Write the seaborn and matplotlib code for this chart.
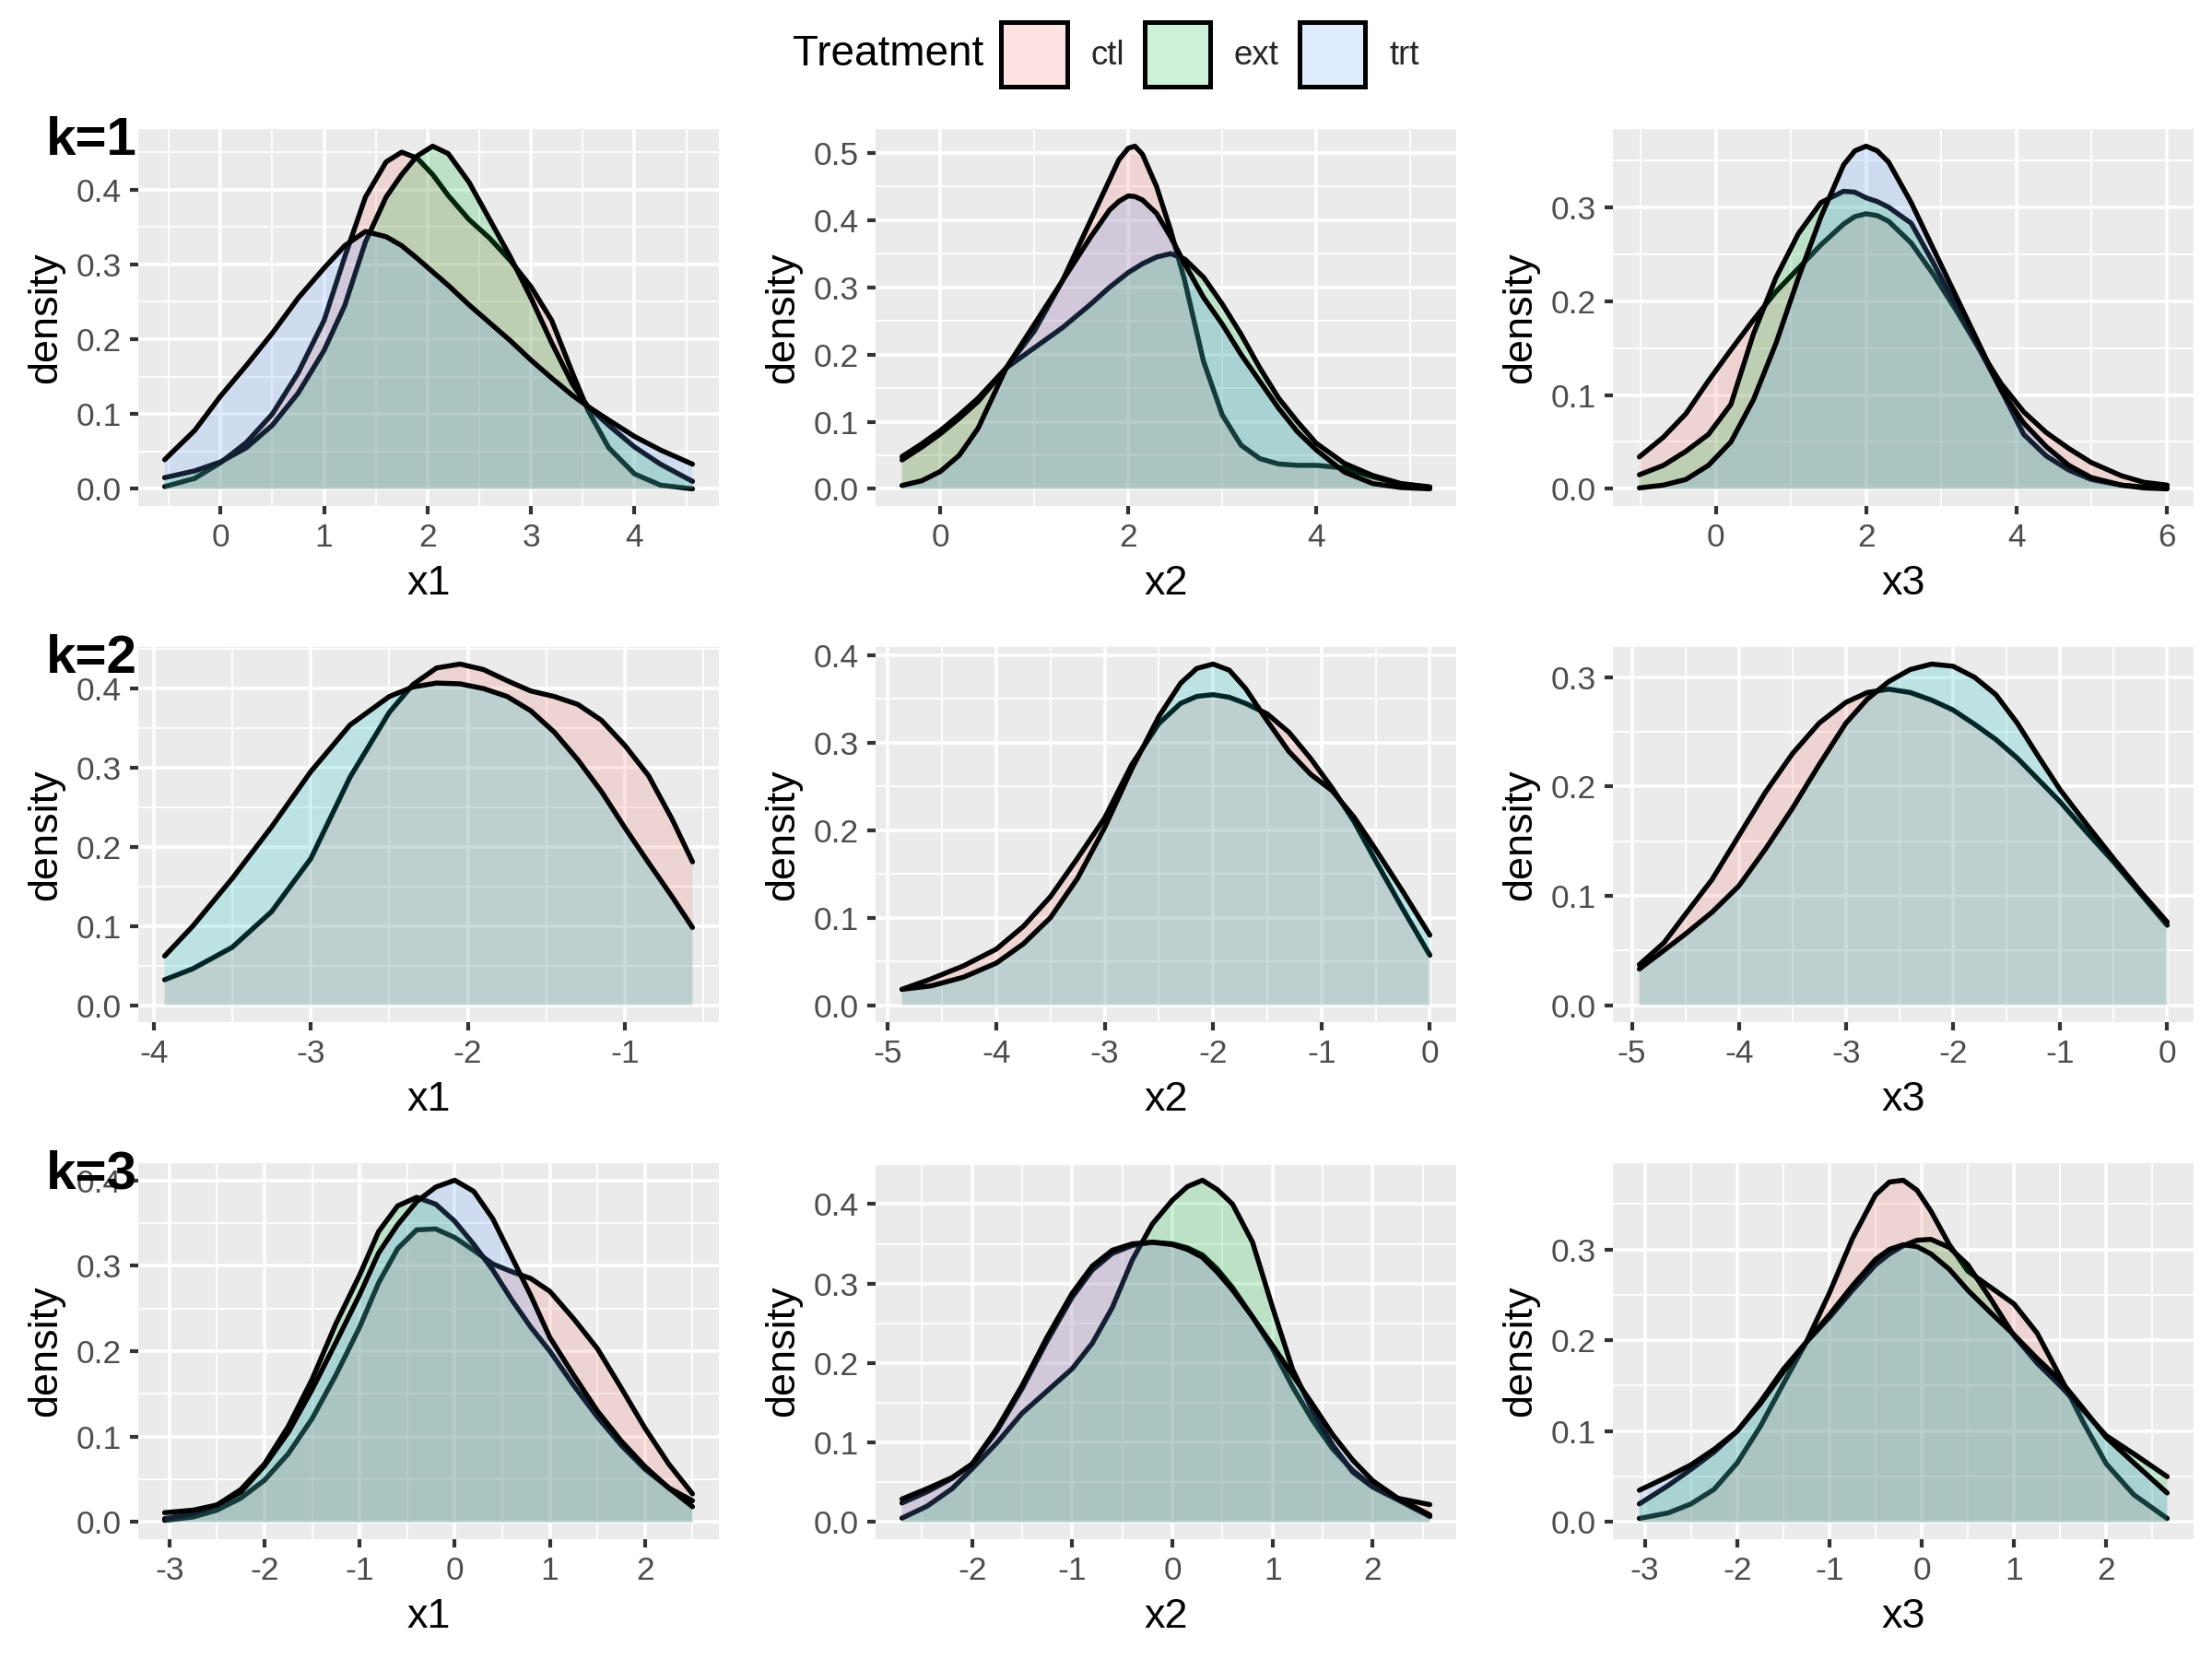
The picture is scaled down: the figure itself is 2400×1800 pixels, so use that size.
import matplotlib
matplotlib.use('Agg')
import matplotlib.pyplot as plt
from matplotlib.ticker import MultipleLocator, FuncFormatter
from matplotlib.patches import Patch
from matplotlib.colors import to_rgba
import seaborn as sns
import pandas as pd

# density curves, one grid per panel
k1_x1_grid = [-0.54, -0.25, 0, 0.25, 0.5, 0.75, 1.0, 1.2, 1.4, 1.6, 1.75, 1.9, 2.05,
              2.2, 2.4, 2.6, 2.8, 3.0, 3.2, 3.4, 3.55, 3.75, 4.0, 4.25, 4.56]
k1_x1_ctl = [0.003, 0.014, 0.035, 0.062, 0.100, 0.155, 0.225, 0.310, 0.390, 0.437, 0.450, 0.442, 0.420,
             0.392, 0.360, 0.335, 0.305, 0.270, 0.225, 0.155, 0.105, 0.055, 0.020, 0.005, 0.000]
k1_x1_ext = [0.015, 0.024, 0.036, 0.055, 0.085, 0.128, 0.185, 0.245, 0.330, 0.390, 0.420, 0.445, 0.458,
             0.448, 0.410, 0.360, 0.310, 0.255, 0.195, 0.140, 0.110, 0.085, 0.056, 0.033, 0.010]
k1_x1_trt = [0.039, 0.078, 0.124, 0.165, 0.208, 0.255, 0.295, 0.325, 0.344, 0.337, 0.325, 0.308, 0.290,
             0.272, 0.246, 0.222, 0.198, 0.172, 0.148, 0.125, 0.110, 0.092, 0.070, 0.052, 0.033]

k1_x2_grid = [-0.41, -0.2, 0, 0.2, 0.4, 0.7, 1.0, 1.3, 1.6, 1.8, 1.9, 2.0, 2.07, 2.15, 2.3,
              2.45, 2.6, 2.8, 3.0, 3.2, 3.4, 3.6, 3.8, 4.0, 4.3, 4.6, 4.9, 5.21]
k1_x2_ctl = [0.048, 0.067, 0.087, 0.110, 0.135, 0.180, 0.235, 0.310, 0.400, 0.460, 0.490, 0.507, 0.510, 0.498, 0.450,
             0.385, 0.310, 0.190, 0.110, 0.065, 0.045, 0.037, 0.035, 0.035, 0.031, 0.018, 0.007, 0.002]
k1_x2_ext = [0.043, 0.062, 0.082, 0.105, 0.130, 0.180, 0.210, 0.240, 0.275, 0.300, 0.311, 0.322, 0.328, 0.335, 0.345,
             0.350, 0.342, 0.315, 0.275, 0.230, 0.180, 0.135, 0.100, 0.068, 0.038, 0.020, 0.008, 0.003]
k1_x2_trt = [0.005, 0.012, 0.026, 0.050, 0.090, 0.180, 0.245, 0.310, 0.375, 0.415, 0.428, 0.436, 0.435, 0.430, 0.410,
             0.375, 0.335, 0.285, 0.245, 0.200, 0.160, 0.120, 0.085, 0.058, 0.025, 0.008, 0.002, 0.000]

k1_x3_grid = [-1.02, -0.7, -0.4, -0.1, 0.2, 0.5, 0.8, 1.1, 1.4, 1.7, 1.85, 2.0, 2.15, 2.3,
              2.6, 2.9, 3.2, 3.5, 3.8, 4.1, 4.4, 4.7, 5.0, 5.4, 5.7, 6.01]
k1_x3_ctl = [0.034, 0.055, 0.080, 0.115, 0.148, 0.180, 0.210, 0.235, 0.260, 0.282, 0.290, 0.293, 0.291, 0.285,
             0.262, 0.228, 0.190, 0.150, 0.112, 0.082, 0.060, 0.043, 0.028, 0.014, 0.007, 0.004]
k1_x3_ext = [0.015, 0.025, 0.040, 0.058, 0.090, 0.165, 0.225, 0.272, 0.305, 0.317, 0.316, 0.310, 0.306, 0.300,
             0.283, 0.240, 0.195, 0.150, 0.105, 0.058, 0.035, 0.020, 0.010, 0.004, 0.002, 0.001]
k1_x3_trt = [0.001, 0.004, 0.010, 0.025, 0.050, 0.095, 0.155, 0.225, 0.290, 0.345, 0.360, 0.365, 0.360, 0.348,
             0.305, 0.255, 0.205, 0.155, 0.105, 0.070, 0.045, 0.025, 0.012, 0.004, 0.001, 0.000]

k2_x1_grid = [-3.93, -3.75, -3.5, -3.25, -3.0, -2.75, -2.5, -2.35, -2.2, -2.05,
              -1.9, -1.75, -1.6, -1.45, -1.3, -1.15, -1.0, -0.85, -0.7, -0.57]
k2_x1_ctl = [0.032, 0.046, 0.073, 0.118, 0.185, 0.288, 0.370, 0.405, 0.426, 0.431,
             0.424, 0.410, 0.397, 0.390, 0.380, 0.360, 0.328, 0.290, 0.235, 0.181]
k2_x1_trt = [0.062, 0.100, 0.160, 0.225, 0.295, 0.354, 0.390, 0.402, 0.407, 0.406,
             0.400, 0.390, 0.372, 0.345, 0.310, 0.270, 0.224, 0.180, 0.137, 0.098]

k2_x2_grid = [-4.87, -4.6, -4.3, -4.0, -3.75, -3.5, -3.25, -3.0, -2.75, -2.5, -2.3, -2.15,
              -2.0, -1.85, -1.7, -1.5, -1.3, -1.1, -0.9, -0.7, -0.5, -0.25, 0.0]
k2_x2_ctl = [0.018, 0.030, 0.045, 0.064, 0.090, 0.124, 0.168, 0.214, 0.275, 0.322, 0.345, 0.353,
             0.355, 0.352, 0.345, 0.333, 0.312, 0.282, 0.248, 0.210, 0.165, 0.110, 0.057]
k2_x2_trt = [0.018, 0.022, 0.032, 0.048, 0.070, 0.100, 0.145, 0.203, 0.270, 0.330, 0.368, 0.385,
             0.390, 0.383, 0.362, 0.325, 0.290, 0.264, 0.245, 0.215, 0.178, 0.130, 0.080]

k2_x3_grid = [-4.93, -4.7, -4.5, -4.25, -4.0, -3.75, -3.5, -3.25, -3.0, -2.8, -2.6, -2.4,
              -2.2, -2.0, -1.8, -1.6, -1.4, -1.2, -1.0, -0.75, -0.5, -0.25, 0.0]
k2_x3_ctl = [0.037, 0.057, 0.083, 0.115, 0.155, 0.195, 0.230, 0.258, 0.277, 0.286, 0.289, 0.286,
             0.279, 0.270, 0.257, 0.243, 0.226, 0.206, 0.186, 0.158, 0.131, 0.102, 0.073]
k2_x3_trt = [0.033, 0.050, 0.065, 0.085, 0.109, 0.143, 0.180, 0.220, 0.258, 0.280, 0.296, 0.307,
             0.312, 0.310, 0.300, 0.284, 0.258, 0.227, 0.197, 0.165, 0.134, 0.104, 0.076]

k3_x1_grid = [-3.05, -2.75, -2.5, -2.25, -2.0, -1.75, -1.5, -1.25, -1.0, -0.8, -0.6, -0.4, -0.2,
              0.0, 0.2, 0.4, 0.6, 0.8, 1.0, 1.25, 1.5, 1.75, 2.0, 2.25, 2.5]
k3_x1_ctl = [0.002, 0.006, 0.014, 0.028, 0.049, 0.080, 0.121, 0.172, 0.228, 0.280, 0.320, 0.342, 0.343,
             0.333, 0.318, 0.302, 0.293, 0.285, 0.270, 0.238, 0.203, 0.157, 0.110, 0.068, 0.033]
k3_x1_ext = [0.004, 0.010, 0.020, 0.038, 0.068, 0.112, 0.167, 0.232, 0.289, 0.340, 0.370, 0.380, 0.372,
             0.352, 0.325, 0.295, 0.260, 0.228, 0.200, 0.160, 0.123, 0.090, 0.062, 0.040, 0.025]
k3_x1_trt = [0.011, 0.014, 0.020, 0.035, 0.066, 0.105, 0.155, 0.210, 0.266, 0.315, 0.348, 0.375, 0.392,
             0.400, 0.387, 0.355, 0.310, 0.265, 0.216, 0.172, 0.130, 0.095, 0.065, 0.040, 0.018]

k3_x2_grid = [-2.7, -2.45, -2.2, -2.0, -1.75, -1.5, -1.25, -1.0, -0.8, -0.6, -0.4, -0.2, 0.0,
              0.15, 0.3, 0.45, 0.6, 0.8, 1.0, 1.2, 1.4, 1.6, 1.8, 2.0, 2.25, 2.57]
k3_x2_ctl = [0.024, 0.038, 0.055, 0.073, 0.115, 0.168, 0.228, 0.283, 0.317, 0.338, 0.348, 0.352, 0.350,
             0.345, 0.336, 0.318, 0.295, 0.258, 0.218, 0.170, 0.128, 0.092, 0.065, 0.045, 0.030, 0.022]
k3_x2_ext = [0.005, 0.020, 0.042, 0.067, 0.100, 0.137, 0.165, 0.193, 0.225, 0.270, 0.330, 0.375, 0.405,
             0.422, 0.430, 0.418, 0.400, 0.352, 0.270, 0.192, 0.140, 0.097, 0.063, 0.044, 0.028, 0.007]
k3_x2_trt = [0.029, 0.042, 0.056, 0.073, 0.118, 0.172, 0.233, 0.288, 0.322, 0.342, 0.350, 0.352, 0.349,
             0.343, 0.333, 0.314, 0.292, 0.258, 0.222, 0.185, 0.148, 0.110, 0.078, 0.052, 0.030, 0.009]

k3_x3_grid = [-3.06, -2.75, -2.5, -2.25, -2.0, -1.75, -1.5, -1.25, -1.0, -0.75, -0.5, -0.35, -0.2,
              -0.05, 0.1, 0.3, 0.5, 0.75, 1.0, 1.25, 1.5, 1.75, 2.0, 2.3, 2.66]
k3_x3_ctl = [0.004, 0.010, 0.020, 0.036, 0.065, 0.105, 0.152, 0.198, 0.252, 0.312, 0.360, 0.374, 0.376,
             0.365, 0.342, 0.305, 0.276, 0.258, 0.240, 0.208, 0.160, 0.110, 0.064, 0.030, 0.004]
k3_x3_ext = [0.020, 0.040, 0.058, 0.077, 0.100, 0.132, 0.168, 0.198, 0.225, 0.255, 0.283, 0.295, 0.304,
             0.310, 0.311, 0.302, 0.283, 0.245, 0.205, 0.175, 0.150, 0.123, 0.095, 0.075, 0.050]
k3_x3_trt = [0.035, 0.050, 0.063, 0.080, 0.100, 0.130, 0.165, 0.198, 0.228, 0.260, 0.289, 0.300, 0.305,
             0.303, 0.295, 0.278, 0.255, 0.230, 0.206, 0.180, 0.156, 0.125, 0.093, 0.065, 0.032]

treatments = ['ctl', 'ext', 'trt']
row_tags = ['k=1', 'k=2', 'k=3']
variables = ['x1', 'x2', 'x3']

# ggplot hue palettes (3 groups / 2 groups)
pal3 = {'ctl': '#F8766D', 'ext': '#00BA38', 'trt': '#619CFF'}
pal2 = {'ctl': '#F8766D', 'trt': '#00BFC4'}

rows = [
    [(k1_x1_grid, {'ctl': k1_x1_ctl, 'ext': k1_x1_ext, 'trt': k1_x1_trt}, 1),
     (k1_x2_grid, {'ctl': k1_x2_ctl, 'ext': k1_x2_ext, 'trt': k1_x2_trt}, 2),
     (k1_x3_grid, {'ctl': k1_x3_ctl, 'ext': k1_x3_ext, 'trt': k1_x3_trt}, 2)],
    [(k2_x1_grid, {'ctl': k2_x1_ctl, 'trt': k2_x1_trt}, 1),
     (k2_x2_grid, {'ctl': k2_x2_ctl, 'trt': k2_x2_trt}, 1),
     (k2_x3_grid, {'ctl': k2_x3_ctl, 'trt': k2_x3_trt}, 1)],
    [(k3_x1_grid, {'ctl': k3_x1_ctl, 'ext': k3_x1_ext, 'trt': k3_x1_trt}, 1),
     (k3_x2_grid, {'ctl': k3_x2_ctl, 'ext': k3_x2_ext, 'trt': k3_x2_trt}, 1),
     (k3_x3_grid, {'ctl': k3_x3_ctl, 'ext': k3_x3_ext, 'trt': k3_x3_trt}, 1)],
]

sns.set_theme(style='darkgrid', rc={'axes.facecolor': '#EBEBEB', 'grid.color': 'white'})
plt.rcParams['font.family'] = ['Liberation Sans', 'DejaVu Sans']
plt.rcParams['axes.unicode_minus'] = False

W, H = 2400, 1800
fig = plt.figure(figsize=(8, 6), dpi=300)
fig.patch.set_facecolor('white')

col_left = [150, 950, 1750]
panel_w = 630
row_top = [140, 702, 1262]
row_bot = [549, 1109, 1670]
tag_top = [126, 688, 1248]

for r, row in enumerate(rows):
    for c, (grid, curves, step) in enumerate(row):
        ax = fig.add_axes([col_left[c] / W, 1 - row_bot[r] / H,
                           panel_w / W, (row_bot[r] - row_top[r]) / H])
        pal = pal3 if len(curves) == 3 else pal2
        for i, (g, vals) in enumerate(curves.items()):
            df = pd.DataFrame({'x': grid, 'density': vals})
            ax.fill_between(df['x'], 0, df['density'], facecolor=to_rgba(pal[g], 0.2),
                            edgecolor='none', zorder=2 + 2 * i)
            sns.lineplot(data=df, x='x', y='density', color='black', linewidth=1.3,
                         estimator=None, sort=False, ax=ax, zorder=3 + 2 * i,
                         solid_joinstyle='round')

        xmin, xmax = grid[0], grid[-1]
        pad = 0.05 * (xmax - xmin)
        ymax = max(max(v) for v in curves.values())
        ax.set_xlim(xmin - pad, xmax + pad)
        ax.set_ylim(-0.05 * ymax, 1.05 * ymax)

        ax.xaxis.set_major_locator(MultipleLocator(step))
        ax.xaxis.set_minor_locator(MultipleLocator(step / 2))
        ax.yaxis.set_major_locator(MultipleLocator(0.1))
        ax.yaxis.set_minor_locator(MultipleLocator(0.05))
        ax.xaxis.set_major_formatter(FuncFormatter(lambda v, p: str(int(round(v)))))
        ax.yaxis.set_major_formatter(FuncFormatter(lambda v, p: f'{0.0 if abs(v) < 1e-9 else v:.1f}'))

        ax.set_axisbelow(True)
        ax.grid(which='major', color='white', linewidth=0.85)
        ax.grid(which='minor', color='white', linewidth=0.45)
        ax.tick_params(which='major', length=2.2, width=1.0, color='#333333',
                       labelcolor='#4D4D4D', labelsize=8.5, pad=2.2, bottom=True, left=True)
        ax.tick_params(which='minor', length=0)
        for s in ax.spines.values():
            s.set_visible(False)

        ax.set_xlabel(variables[c], fontsize=10.8, color='black', labelpad=3)
        ax.set_ylabel('density', fontsize=10.8, color='black', labelpad=3)

    fig.text(50 / W, 1 - tag_top[r] / H, row_tags[r], fontsize=14, fontweight='bold',
             ha='left', va='top', color='black')

# legend at top
handles = [Patch(facecolor=to_rgba(pal3[t], 0.2), edgecolor='black', linewidth=1.2,
                 joinstyle='round') for t in treatments]
fig.legend(handles, treatments, loc='center left', bbox_to_anchor=(1086 / W, 1 - 59 / H),
           ncol=3, frameon=False, fontsize=8.8, handlelength=1.95, handleheight=2.6,
           handletextpad=0.7, columnspacing=0.6, borderpad=0, borderaxespad=0)
fig.text(1067 / W, 1 - 59 / H, 'Treatment', fontsize=11, ha='right', va='center', color='black')

fig.savefig('out.png', dpi=300)
